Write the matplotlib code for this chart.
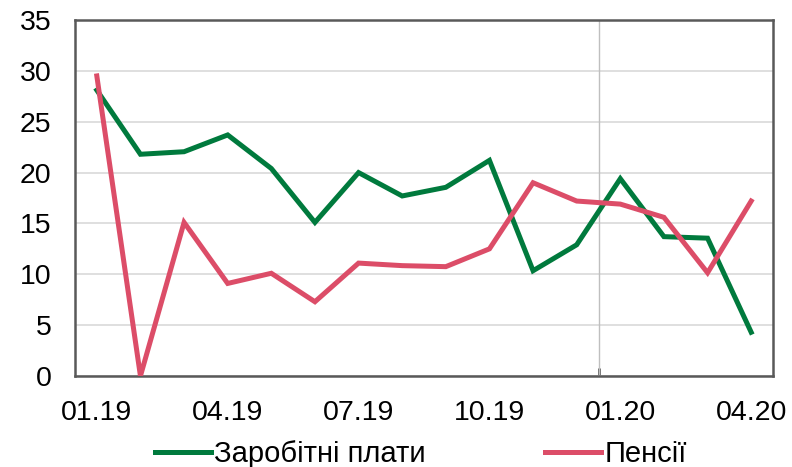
import matplotlib
matplotlib.use("Agg")
import matplotlib.pyplot as plt
from matplotlib.lines import Line2D

plt.rcParams['font.family'] = ['Liberation Sans', 'DejaVu Sans']

months = ["01.19", "02.19", "03.19", "04.19", "05.19", "06.19", "07.19", "08.19",
          "09.19", "10.19", "11.19", "12.19", "01.20", "02.20", "03.20", "04.20"]
wages = [28.1, 21.8, 22.05, 23.7, 20.4, 15.1, 20.0, 17.7,
         18.55, 21.2, 10.35, 12.9, 19.4, 13.7, 13.55, 4.3]
pensions = [29.5, 0.0, 15.1, 9.1, 10.1, 7.3, 11.1, 10.85,
            10.75, 12.5, 19.0, 17.2, 16.9, 15.6, 10.15, 17.2]
tick_labels = ["01.19", "04.19", "07.19", "10.19", "01.20", "04.20"]
series_names = ["Заробітні плати", "Пенсії"]

green = "#007A3D"
red = "#DC4D68"
spine_col = "#595959"

fig = plt.figure(figsize=(7.92, 4.67), dpi=100)
ax = fig.add_axes([75/792, 1-376/467, (773-75)/792, (376-20)/467])

x = list(range(len(months)))
ax.set_xlim(-0.5, len(months) - 0.5)
ax.set_ylim(0, 35)
ax.set_yticks(range(0, 36, 5))
ax.grid(axis='y', color='#D9D9D9', linewidth=1.2)
ax.set_axisbelow(True)

# year separator line
sep = months.index("01.20") - 0.5
ax.axvline(sep, color='#BFBFBF', linewidth=1.0, zorder=1)

ax.plot(x, wages, color=green, linewidth=3.6, solid_joinstyle='miter', zorder=3)
ax.plot(x, pensions, color=red, linewidth=3.6, solid_joinstyle='miter', zorder=3)

ax.set_xticks([months.index(t) for t in tick_labels])
ax.set_xticklabels(tick_labels)
ax.set_xticks([sep], minor=True)
ax.tick_params(axis='x', which='major', length=0, pad=17, labelsize=20.5)
ax.tick_params(axis='x', which='minor', direction='in', length=6, width=2, color=spine_col)
ax.tick_params(axis='y', length=0, pad=17, labelsize=20.5)

for s in ax.spines.values():
    s.set_color(spine_col)
    s.set_linewidth(1.8)

handles = [Line2D([], [], color=green, linewidth=3.6),
           Line2D([], [], color=red, linewidth=3.6)]
fig.legend(handles, series_names, loc='center', bbox_to_anchor=(421/792, 1-454/467),
           ncol=2, frameon=False, fontsize=21, handlelength=1.9, handletextpad=0.12,
           columnspacing=4.1, borderaxespad=0, borderpad=0)

fig.savefig("out.png", dpi=100)
